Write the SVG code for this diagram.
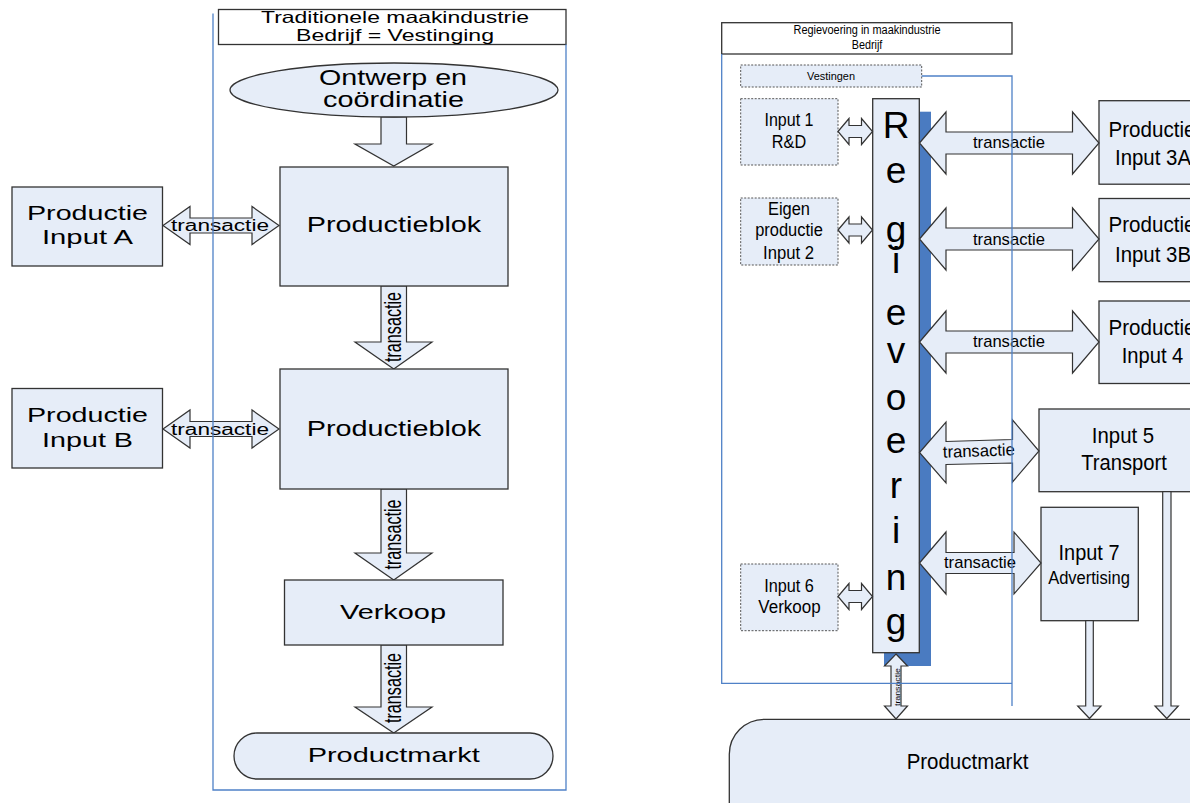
<svg xmlns="http://www.w3.org/2000/svg" width="1190" height="803" viewBox="0 0 1190 803">
<style>
.box{fill:#e6edf8;stroke:#333;stroke-width:1.3}
.ttl{fill:#fff;stroke:#333;stroke-width:1.3}
.dash{fill:#e6edf8;stroke:#555;stroke-width:1;stroke-dasharray:2 1.5}
.arr{fill:#e6edf8;stroke:#333;stroke-width:1.2;stroke-linejoin:miter}
.blue{fill:none;stroke:#4f81c7;stroke-width:1.3}
text{font-family:"Liberation Sans",Arial,sans-serif;fill:#000;text-anchor:middle}
.st{text-anchor:start}
.lA{font-size:22px}
.lB{font-size:21px}
.lT{font-size:16px}
.rL{font-size:18px}
.rM{font-size:22px}
.rT{font-size:17px}
.reg{font-size:37px}
</style>

<!-- ===== Left diagram ===== -->
<g id="left-title">
<rect class="ttl" x="218.5" y="9.5" width="347.5" height="35"/>
<text x="395" y="22.5" font-size="16.5" textLength="268" lengthAdjust="spacingAndGlyphs">Traditionele maakindustrie</text>
<text x="395" y="40.5" font-size="16.5" textLength="198" lengthAdjust="spacingAndGlyphs">Bedrijf = Vestinging</text>
</g>

<g id="left-connectors">
<polygon class="arr" points="381,117 406.5,117 406.5,144 432,144 393.75,166 355,144 381,144"/>
<polygon class="arr" points="381,286 406.5,286 406.5,342 432,342 393.75,369 355,342 381,342"/>
<polygon class="arr" points="381,489 406.5,489 406.5,553 432,553 393.75,580 355,553 381,553"/>
<polygon class="arr" points="381,645 406.5,645 406.5,707 432,707 393.75,733 355,707 381,707"/>
<polygon class="arr" points="163,225.5 190,206.5 190,218 252,218 252,206.5 279,225.5 252,244.5 252,233 190,233 190,244.5"/>
<polygon class="arr" points="163,429 190,410 190,421.5 252,421.5 252,410 279,429 252,448 252,436.5 190,436.5 190,448"/>
<text class="lT" x="220" y="231" textLength="98" lengthAdjust="spacingAndGlyphs">transactie</text>
<text class="lT" x="220" y="434.5" textLength="98" lengthAdjust="spacingAndGlyphs">transactie</text>
<text class="lT" transform="translate(401,327) rotate(-90) scale(1,1.45)" textLength="70" lengthAdjust="spacingAndGlyphs">transactie</text>
<text class="lT" transform="translate(401,534.5) rotate(-90) scale(1,1.45)" textLength="70" lengthAdjust="spacingAndGlyphs">transactie</text>
<text class="lT" transform="translate(401,688) rotate(-90) scale(1,1.45)" textLength="70" lengthAdjust="spacingAndGlyphs">transactie</text>
</g>

<g id="ontwerp">
<ellipse class="box" cx="394" cy="90" rx="164" ry="27"/>
<text class="lA" x="393" y="85" textLength="148" lengthAdjust="spacingAndGlyphs">Ontwerp en</text>
<text class="lA" x="393.5" y="107" textLength="141" lengthAdjust="spacingAndGlyphs">coördinatie</text>
</g>
<g id="productieblok1">
<rect class="box" x="280" y="167" width="228" height="119"/>
<text class="lA" x="394" y="232" textLength="174.5" lengthAdjust="spacingAndGlyphs">Productieblok</text>
</g>
<g id="productieblok2">
<rect class="box" x="280" y="369" width="228" height="120"/>
<text class="lA" x="394" y="435.5" textLength="174.5" lengthAdjust="spacingAndGlyphs">Productieblok</text>
</g>
<g id="input-a">
<rect class="box" x="12" y="187" width="150.5" height="79"/>
<text class="lB" x="87.5" y="220" textLength="121" lengthAdjust="spacingAndGlyphs">Productie</text>
<text class="lB" x="87.5" y="244" textLength="91" lengthAdjust="spacingAndGlyphs">Input A</text>
</g>
<g id="input-b">
<rect class="box" x="12" y="388.5" width="150.5" height="79.5"/>
<text class="lB" x="87.5" y="422.3" textLength="121" lengthAdjust="spacingAndGlyphs">Productie</text>
<text class="lB" x="87.5" y="446.7" textLength="91" lengthAdjust="spacingAndGlyphs">Input B</text>
</g>
<g id="verkoop">
<rect class="box" x="284.5" y="580" width="218.5" height="65"/>
<text class="lB" x="393" y="619" textLength="106" lengthAdjust="spacingAndGlyphs">Verkoop</text>
</g>
<g id="productmarkt-left">
<rect class="box" x="234" y="733" width="319" height="46" rx="23" ry="23"/>
<text class="lB" x="393.7" y="761.5" textLength="172" lengthAdjust="spacingAndGlyphs">Productmarkt</text>
</g>
<g id="left-frame">
<polyline class="blue" points="213,13.5 213,790 566,790 566,44.5"/>
</g>

<!-- ===== Right diagram ===== -->
<g id="right-title">
<rect class="ttl" x="721.7" y="22.7" width="290.3" height="31.3"/>
<text x="867" y="33.5" font-size="12" textLength="147" lengthAdjust="spacingAndGlyphs">Regievoering in maakindustrie</text>
<text x="867" y="49" font-size="12" textLength="30.6" lengthAdjust="spacingAndGlyphs">Bedrijf</text>
</g>
<g id="vestingen">
<rect class="dash" x="740.7" y="65" width="181" height="22"/>
<text x="831" y="80" font-size="11" textLength="48" lengthAdjust="spacingAndGlyphs">Vestingen</text>
</g>
<g id="input1">
<rect class="dash" x="740.7" y="98.7" width="97.3" height="66.3"/>
<text class="rL" x="789" y="126" textLength="49" lengthAdjust="spacingAndGlyphs">Input 1</text>
<text class="rL" x="789" y="148" textLength="34.3" lengthAdjust="spacingAndGlyphs">R&amp;D</text>
</g>
<g id="input2">
<rect class="dash" x="740.7" y="198" width="97.3" height="67"/>
<text class="rL" x="789" y="215" textLength="42" lengthAdjust="spacingAndGlyphs">Eigen</text>
<text class="rL" x="789" y="236" textLength="67.7" lengthAdjust="spacingAndGlyphs">productie</text>
<text class="rL" x="788.5" y="259" textLength="51" lengthAdjust="spacingAndGlyphs">Input 2</text>
</g>
<g id="input6">
<rect class="dash" x="740.7" y="564" width="97.3" height="66.7"/>
<text class="rL" x="789" y="591.5" textLength="49.7" lengthAdjust="spacingAndGlyphs">Input 6</text>
<text class="rL" x="789.5" y="613.3" textLength="62.3" lengthAdjust="spacingAndGlyphs">Verkoop</text>
</g>

<g id="regievoering">
<rect x="884" y="111.7" width="47" height="554.3" fill="#4a7bc1"/>
<rect class="box" x="872.7" y="98.7" width="46.6" height="554"/>
<text class="reg" x="896" y="138.3">R</text>
<text class="reg" x="896" y="183.3">e</text>
<text class="reg" x="896" y="242">g</text>
<text class="reg" x="896" y="273.3">i</text>
<text class="reg" x="896" y="325">e</text>
<text class="reg" x="896" y="363.3">v</text>
<text class="reg" x="896" y="410">o</text>
<text class="reg" x="896" y="453.3">e</text>
<text class="reg" x="896" y="498.3">r</text>
<text class="reg" x="896" y="543.3">i</text>
<text class="reg" x="896" y="590">n</text>
<text class="reg" x="896" y="634">g</text>
</g>

<g id="input3a">
<rect class="box" x="1099" y="100.7" width="110" height="83.5"/>
<text class="rM st" x="1108.5" y="136.5" textLength="87" lengthAdjust="spacingAndGlyphs">Productie</text>
<text class="rM st" x="1115" y="165" textLength="76" lengthAdjust="spacingAndGlyphs">Input 3A</text>
</g>
<g id="input3b">
<rect class="box" x="1099" y="198.5" width="110" height="83.2"/>
<text class="rM st" x="1108.5" y="231.5" textLength="87" lengthAdjust="spacingAndGlyphs">Productie</text>
<text class="rM st" x="1115" y="261.5" textLength="76" lengthAdjust="spacingAndGlyphs">Input 3B</text>
</g>
<g id="input4">
<rect class="box" x="1099" y="301" width="110" height="82.5"/>
<text class="rM st" x="1108.5" y="334.5" textLength="87" lengthAdjust="spacingAndGlyphs">Productie</text>
<text class="rM" x="1152.5" y="363" textLength="61.7" lengthAdjust="spacingAndGlyphs">Input 4</text>
</g>
<g id="input5">
<rect class="box" x="1039" y="409" width="170" height="82.7"/>
<text class="rM" x="1123" y="442.5" textLength="62.3" lengthAdjust="spacingAndGlyphs">Input 5</text>
<text class="rM" x="1124" y="470" textLength="85.7" lengthAdjust="spacingAndGlyphs">Transport</text>
</g>
<g id="input7">
<rect class="box" x="1041" y="507.3" width="97.3" height="113.4"/>
<text class="rM" x="1089" y="559.5" textLength="61" lengthAdjust="spacingAndGlyphs">Input 7</text>
<text class="rL" x="1089" y="583.5" textLength="81.7" lengthAdjust="spacingAndGlyphs">Advertising</text>
</g>
<g id="productmarkt-right">
<rect class="box" x="729.3" y="719.3" width="520" height="130" rx="35" ry="35"/>
<text class="rM" x="967.5" y="769.3" textLength="121.7" lengthAdjust="spacingAndGlyphs">Productmarkt</text>
</g>

<g id="right-connectors">
<polygon class="arr" points="919.5,143 946,112 946,132 1072.5,132 1072.5,112 1099,143 1072.5,174 1072.5,154 946,154 946,174"/>
<polygon class="arr" points="919.5,239 946,208 946,228 1072.5,228 1072.5,208 1099,239 1072.5,270 1072.5,250 946,250 946,270"/>
<polygon class="arr" points="919.5,342 946,311 946,331 1072.5,331 1072.5,311 1099,342 1072.5,373 1072.5,353 946,353 946,373"/>
<polygon class="arr" points="919.5,452.5 946,422 946,441.5 1012.5,439.5 1012.5,420 1039,451 1012.5,482 1012.5,463 946,464.5 946,483"/>
<polygon class="arr" points="919.5,563 946,532 946,552.5 1014,552.5 1014,532 1041,563 1014,594 1014,573.5 946,573.5 946,594"/>
<polygon class="arr" points="838,131.5 849,118.5 849,125.5 861.5,125.5 861.5,118.5 872.5,131.5 861.5,144.5 861.5,137.5 849,137.5 849,144.5"/>
<polygon class="arr" points="838,230 849,217 849,224 861.5,224 861.5,217 872.5,230 861.5,243 861.5,236 849,236 849,243"/>
<polygon class="arr" points="838,596.5 849,583.5 849,590.5 861.5,590.5 861.5,583.5 872.5,596.5 861.5,609.5 861.5,602.5 849,602.5 849,609.5"/>
<polygon class="arr" points="896,654 907.5,666 901,666 901,706 907.5,706 896,719 884.5,706 891,706 891,666 884.5,666"/>
<polygon class="arr" points="1085.7,620.7 1093.3,620.7 1093.3,706 1101,706 1089.5,718.5 1077.7,706 1085.7,706"/>
<polygon class="arr" points="1162.7,491.7 1171,491.7 1171,706 1178.3,706 1166.8,718.5 1155,706 1162.7,706"/>
<text class="rT" x="1009" y="148.3" textLength="72" lengthAdjust="spacingAndGlyphs">transactie</text>
<text class="rT" x="1009" y="245" textLength="72" lengthAdjust="spacingAndGlyphs">transactie</text>
<text class="rT" x="1009" y="347.3" textLength="72" lengthAdjust="spacingAndGlyphs">transactie</text>
<text class="rT" transform="translate(979,456.5) rotate(-2)" textLength="72" lengthAdjust="spacingAndGlyphs">transactie</text>
<text class="rT" x="980" y="568.3" textLength="72" lengthAdjust="spacingAndGlyphs">transactie</text>
<text transform="translate(899.5,687) rotate(-90)" font-size="8" textLength="38" lengthAdjust="spacingAndGlyphs">transactie</text>
</g>

<g id="right-frame">
<polyline class="blue" points="721.7,54 721.7,683.3 1012,683.3"/>
<polyline class="blue" points="921.7,76 1012,76 1012,706"/>
</g>
</svg>
